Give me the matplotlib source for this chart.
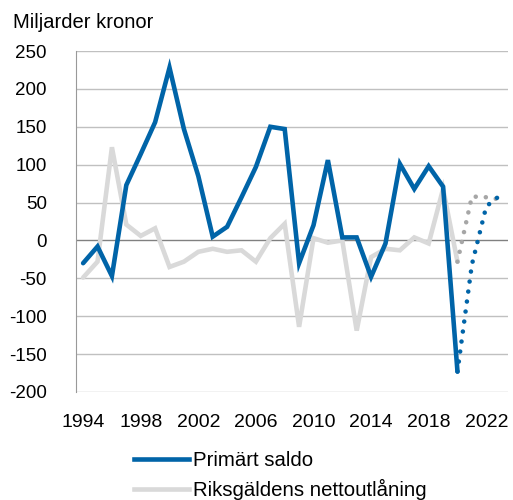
import numpy as np
import matplotlib.pyplot as plt

plt.rcParams["font.family"] = ["Liberation Sans", "DejaVu Sans"]
plt.rcParams["axes.unicode_minus"] = False

# data (Mdr kr)
years = list(range(1994, 2024))
primart_saldo = [-30, -8, -47, 73, 114, 156, 228, 147, 85, 5, 18, 57, 97, 150, 147,
                 -30, 20, 106, 4, 4, -48, -4, 101, 68, 98, 71, -173]
primart_prognos = [-173, -32, 45, 60]
nettoutlaning = [-49, -28, 123, 21, 6, 16, -35, -28, -15, -11, -15, -13, -28, 3, 22,
                 -114, 3, -3, 0, -119, -22, -11, -13, 4, -4, 68, -28]
nettoutlaning_prognos = [-28, 58, 57, 54]

C_BLUE = "#0064a8"
C_LGREY = "#d9d9d9"
C_DGREY = "#a6a6a6"

x = np.arange(len(years))
n_hist = len(primart_saldo)
x_prog = x[n_hist - 1:]

fig = plt.figure(figsize=(5.13, 5.0), dpi=100)
ax = fig.add_axes([0.148, 0.216, 0.842, 0.682])

ax.set_ylim(-200, 250)
ax.set_xlim(-0.5, len(years) - 0.5)
ax.set_yticks(np.arange(-200, 251, 50))
for v in np.arange(-200, 251, 50):
    ax.axhline(v, color="#808080" if v == 0 else "#c0c0c0", lw=1.0, zorder=0)

LW = 3.3
dots = (0, (0.001, 2.2))
ax.plot(x[:n_hist], nettoutlaning, color=C_LGREY, lw=LW, solid_capstyle="round",
        solid_joinstyle="miter", zorder=2)
ax.plot(x_prog, nettoutlaning_prognos, color=C_DGREY, lw=LW, ls=dots,
        dash_capstyle="round", zorder=2)
ax.plot(x[:n_hist], primart_saldo, color=C_BLUE, lw=LW, solid_capstyle="round",
        solid_joinstyle="miter", zorder=3)
ax.plot(x_prog, primart_prognos, color=C_BLUE, lw=LW, ls=dots,
        dash_capstyle="round", zorder=3)

ax.set_xticks(x[::4])
ax.set_xticklabels([str(y) for y in years[::4]])

for s in ("top", "right", "bottom"):
    ax.spines[s].set_visible(False)
ax.spines["left"].set_color("#999999")
ax.tick_params(length=0, labelsize=13.5, colors="black")
ax.tick_params(axis="y", pad=21)
ax.tick_params(axis="x", labelsize=14, pad=16)

fig.text(0.025, 0.955, "Miljarder kronor", fontsize=14.5, va="center", ha="left")

handles = [plt.Line2D([], [], color=C_BLUE, lw=LW),
           plt.Line2D([], [], color=C_LGREY, lw=LW)]
fig.legend(handles, ["Primärt saldo", "Riksgäldens nettoutlåning"],
           loc="upper left", bbox_to_anchor=(0.262, 0.097), frameon=False,
           fontsize=14.7, handlelength=2.65, handletextpad=0.22,
           labelspacing=0.42, borderaxespad=0, borderpad=0)

fig.savefig("out.png", dpi=100)
